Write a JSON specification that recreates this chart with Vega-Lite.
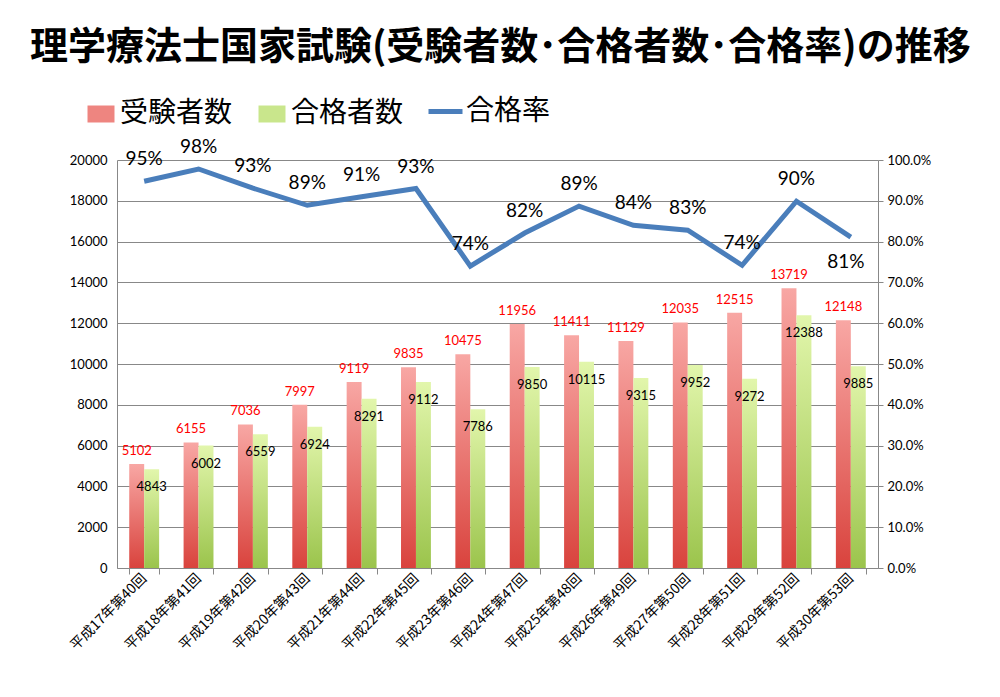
{
  "$schema": "https://vega.github.io/schema/vega-lite/v6.json",
  "width": 761,
  "height": 408,
  "padding": {"left": 30, "top": 29, "right": 5, "bottom": 5},
  "background": "white",
  "config": {
    "font": "Noto Sans CJK JP",
    "view": {"stroke": null},
    "axis": {"labelFont": "Lato", "labelFontSize": 13, "labelColor": "#000", "domainColor": "#888", "tickColor": "#888", "gridColor": "#888", "title": null},
    "legend": {
      "orient": "none",
      "direction": "horizontal",
      "title": null,
      "padding": 0,
      "labelFont": "Noto Sans CJK JP",
      "labelFontSize": 28,
      "labelColor": "#000",
      "columnPadding": 19,
      "symbolType": "stroke"
    }
  },
  "title": {
    "text": "理学療法士国家試験(受験者数･合格者数･合格率)の推移",
    "font": "Noto Sans CJK JP",
    "fontWeight": "bold",
    "fontSize": 38,
    "anchor": "start",
    "frame": "group",
    "dx": -87,
    "offset": 25,
    "color": "#000"
  },
  "data": {
    "values": [
      {"回": "平成17年第40回", "受験者数": 5102, "合格者数": 4843, "合格率": 0.948},
      {"回": "平成18年第41回", "受験者数": 6155, "合格者数": 6002, "合格率": 0.978},
      {"回": "平成19年第42回", "受験者数": 7036, "合格者数": 6559, "合格率": 0.931},
      {"回": "平成20年第43回", "受験者数": 7997, "合格者数": 6924, "合格率": 0.889},
      {"回": "平成21年第44回", "受験者数": 9119, "合格者数": 8291, "合格率": 0.910},
      {"回": "平成22年第45回", "受験者数": 9835, "合格者数": 9112, "合格率": 0.930},
      {"回": "平成23年第46回", "受験者数": 10475, "合格者数": 7786, "合格率": 0.740},
      {"回": "平成24年第47回", "受験者数": 11956, "合格者数": 9850, "合格率": 0.821},
      {"回": "平成25年第48回", "受験者数": 11411, "合格者数": 10115, "合格率": 0.887},
      {"回": "平成26年第49回", "受験者数": 11129, "合格者数": 9315, "合格率": 0.840},
      {"回": "平成27年第50回", "受験者数": 12035, "合格者数": 9952, "合格率": 0.828},
      {"回": "平成28年第51回", "受験者数": 12515, "合格者数": 9272, "合格率": 0.742},
      {"回": "平成29年第52回", "受験者数": 13719, "合格者数": 12388, "合格率": 0.899},
      {"回": "平成30年第53回", "受験者数": 12148, "合格者数": 9885, "合格率": 0.811}
    ]
  },
  "encoding": {
    "x": {
      "field": "回",
      "type": "nominal",
      "sort": null,
      "scale": {"paddingInner": 0.45, "paddingOuter": 0.225},
      "axis": {"labelAngle": -45, "labelAlign": "right", "labelBaseline": "middle", "labelFont": "Noto Sans CJK JP", "labelFontSize": 14, "tickBand": "extent", "tickSize": 6, "labelPadding": 2, "grid": false}
    }
  },
  "layer": [
    {
      "transform": [{"fold": ["受験者数", "合格者数"], "as": ["系列", "人数"]}],
      "layer": [
        {
          "mark": {"type": "bar"},
          "encoding": {
            "xOffset": {"field": "系列", "type": "nominal", "sort": ["受験者数", "合格者数"]},
            "y": {"field": "人数", "type": "quantitative", "scale": {"domain": [0, 20000]}, "axis": {"values": [0, 2000, 4000, 6000, 8000, 10000, 12000, 14000, 16000, 18000, 20000], "format": "d", "grid": true, "ticks": false, "labelPadding": 10}},
            "fill": {
              "condition": {
                "test": "datum['系列'] === '受験者数'",
                "value": {"gradient": "linear", "x1": 0, "y1": 1, "x2": 0, "y2": 0, "stops": [{"offset": 0, "color": "#d9433d"}, {"offset": 1, "color": "#f8a7a4"}]}
              },
              "value": {"gradient": "linear", "x1": 0, "y1": 1, "x2": 0, "y2": 0, "stops": [{"offset": 0, "color": "#9bc44c"}, {"offset": 1, "color": "#e2f6ac"}]}
            }
          }
        },
        {
          "mark": {"type": "rule", "strokeWidth": 17, "strokeCap": "butt"},
          "encoding": {
            "xOffset": {"field": "系列", "type": "nominal"},
            "y": {"field": "人数", "type": "quantitative"},
            "y2": {"field": "人数"},
            "stroke": {
              "field": "系列",
              "type": "nominal",
              "scale": {"domain": ["受験者数", "合格者数"], "range": ["#ee8580", "#c9e68c"]},
              "legend": {"symbolSize": 729, "symbolStrokeWidth": 17, "labelOffset": -3, "columnPadding": -9, "legendX": -38, "legendY": -68}
            }
          }
        },
        {
          "transform": [{"filter": "datum['系列'] === '受験者数'"}],
          "mark": {"type": "text", "color": "#ff0000", "fontSize": 13, "font": "Lato", "dy": -13},
          "encoding": {
            "xOffset": {"field": "系列", "type": "nominal"},
            "y": {"field": "人数", "type": "quantitative"},
            "text": {"field": "人数", "type": "quantitative", "format": "d"}
          }
        },
        {
          "transform": [{"filter": "datum['系列'] === '合格者数'"}],
          "mark": {"type": "text", "color": "#000", "fontSize": 13, "font": "Lato", "dy": 18},
          "encoding": {
            "xOffset": {"field": "系列", "type": "nominal"},
            "y": {"field": "人数", "type": "quantitative"},
            "text": {"field": "人数", "type": "quantitative", "format": "d"}
          }
        }
      ]
    },
    {
      "layer": [
        {
          "mark": {"type": "line", "strokeWidth": 5},
          "encoding": {
            "y": {"field": "合格率", "type": "quantitative", "scale": {"domain": [0, 1]}, "axis": {"orient": "right", "format": ".1%", "values": [0, 0.1, 0.2, 0.3, 0.4, 0.5, 0.6, 0.7, 0.8, 0.9, 1], "labelFontSize": 13, "ticks": true, "tickSize": 5, "grid": false, "labelPadding": 4}},
            "color": {
              "datum": "合格率",
              "scale": {"range": ["#4a7ebb"]},
              "legend": {"symbolSize": 1156, "symbolStrokeWidth": 5, "labelOffset": 1, "legendX": 309, "legendY": -68}
            }
          }
        },
        {
          "transform": [{"filter": "datum['回'] !== '平成30年第53回'"}],
          "mark": {"type": "text", "fontSize": 19, "font": "Lato", "color": "#000", "dy": -22},
          "encoding": {
            "y": {"field": "合格率", "type": "quantitative"},
            "text": {"field": "合格率", "type": "quantitative", "format": ".0%"}
          }
        },
        {
          "transform": [{"filter": "datum['回'] === '平成30年第53回'"}],
          "mark": {"type": "text", "fontSize": 19, "font": "Lato", "color": "#000", "dy": 25, "dx": -5},
          "encoding": {
            "y": {"field": "合格率", "type": "quantitative"},
            "text": {"field": "合格率", "type": "quantitative", "format": ".0%"}
          }
        }
      ]
    }
  ],
  "resolve": {"scale": {"y": "independent"}}
}
